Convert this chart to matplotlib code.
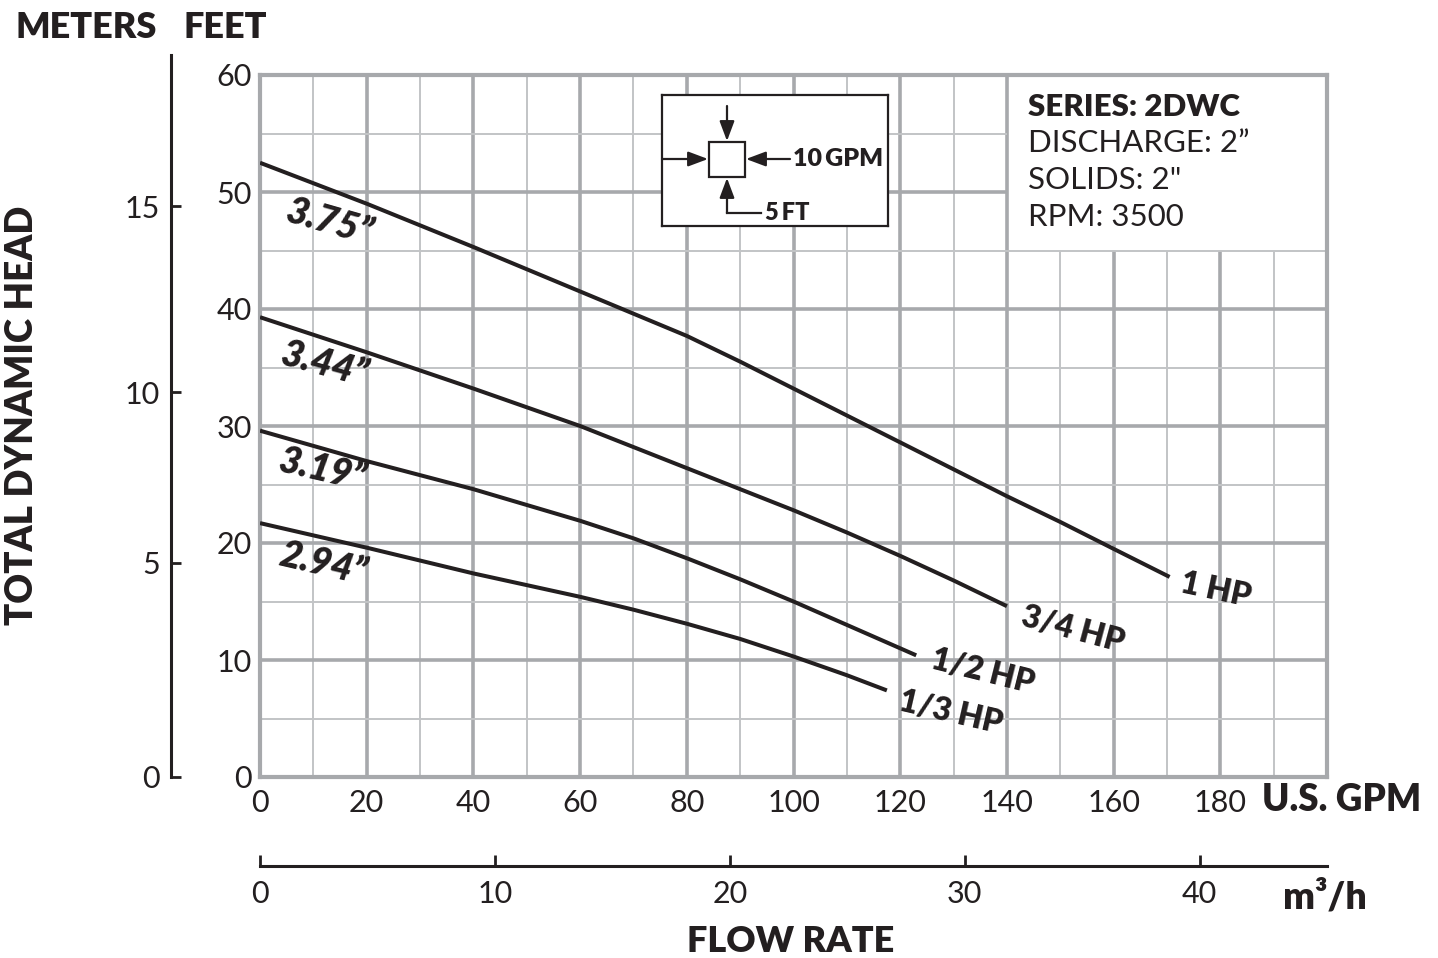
import matplotlib.pyplot as plt
from matplotlib.patches import Rectangle

plt.rcParams['font.family'] = ['Lato', 'DejaVu Sans']

# flow (US GPM) and head (feet)
gpm_375 = [0, 20, 40, 60, 80, 90, 100, 110, 120, 130, 140, 150, 160, 170.5]
ft_375 = [52.5, 49.0, 45.3, 41.5, 37.7, 35.5, 33.2, 30.9, 28.6, 26.3, 24.0, 21.8, 19.5, 17.1]
gpm_344 = [0, 20, 40, 60, 80, 90, 100, 110, 120, 130, 140]
ft_344 = [39.3, 36.3, 33.2, 30.0, 26.4, 24.6, 22.8, 20.9, 18.9, 16.8, 14.6]
gpm_319 = [0, 20, 40, 60, 70, 80, 90, 100, 110, 120, 123]
ft_319 = [29.6, 27.0, 24.6, 21.9, 20.4, 18.7, 16.9, 15.0, 13.0, 11.0, 10.4]
gpm_294 = [0, 20, 40, 60, 70, 80, 90, 100, 110, 117.5]
ft_294 = [21.7, 19.6, 17.4, 15.4, 14.3, 13.1, 11.8, 10.3, 8.7, 7.4]

impellers = ['3.75\u201d', '3.44\u201d', '3.19\u201d', '2.94\u201d']
motors = ['1 HP', '3/4 HP', '1/2 HP', '1/3 HP']

gpm_ticks = list(range(0, 181, 20))
ft_ticks = list(range(0, 61, 10))
m3h_ticks = [0, 10, 20, 30, 40]
meter_labels = ['0', '5', '10', '15']
meter_pos_ft = [0, 18.3, 32.9, 48.8]   # where the meter ticks sit on the feet scale

info_lines = ['SERIES: 2DWC', 'DISCHARGE: 2\u201d', 'SOLIDS: 2"', 'RPM: 3500']

W, H = 1438, 958
ink = '#231f20'
major = '#a7a9ac'
minor = '#c2c4c6'

fig = plt.figure(figsize=(W / 100, H / 100), dpi=100)
ax = fig.add_axes([260 / W, 181 / H, 1067 / W, 702 / H])
ax.set_xlim(0, 200)
ax.set_ylim(0, 60)

# grid (kept out of the info box in the top right corner)
for g in range(10, 200, 10):
    top = 45 if g > 140 else 60
    ax.vlines(g, 0, top, color=major if g % 20 == 0 else minor,
              lw=2.6 if g % 20 == 0 else 1.4, zorder=1)
for h in range(5, 60, 5):
    right = 140 if h > 45 else 200
    ax.hlines(h, 0, right, color=major if h % 10 == 0 else minor,
              lw=2.6 if h % 10 == 0 else 1.4, zorder=1)
for s in ax.spines.values():
    s.set_color(major)
    s.set_linewidth(3)

# curves
curves = [(gpm_375, ft_375), (gpm_344, ft_344), (gpm_319, ft_319), (gpm_294, ft_294)]
for xs, ys in curves:
    ax.plot(xs, ys, color=ink, lw=2.9, solid_capstyle='butt',
            solid_joinstyle='round', zorder=3)

imp_pos = [(13.1, 47.4, -16), (12.2, 35.2, -15), (11.8, 26.2, -13), (11.8, 18.2, -13)]
for lab, (x, y, r) in zip(impellers, imp_pos):
    ax.text(x, y, lab, fontsize=27, fontweight='heavy', style='italic', color=ink,
            rotation=r, ha='center', va='center', rotation_mode='anchor')
hp_pos = [(179.1, 16.0, -12), (152.3, 12.6, -15), (135.4, 9.0, -14), (129.4, 5.5, -13)]
for lab, (x, y, r) in zip(motors, hp_pos):
    ax.text(x, y, lab, fontsize=23, fontweight='heavy', color=ink,
            rotation=r, ha='center', va='center', rotation_mode='anchor')

# ticks, feet / gpm
ax.set_xticks(gpm_ticks)
ax.set_yticks(ft_ticks)
ax.tick_params(length=0, labelsize=22, colors=ink)
ax.tick_params(axis='x', pad=9)
ax.tick_params(axis='y', pad=6)

# meters axis
sec_y = ax.secondary_yaxis(-89 / 1067)
sec_y.set_yticks(meter_pos_ft, meter_labels)
sec_y.tick_params(direction='in', length=7, width=2, colors=ink, labelsize=22, pad=8)
sec_y.spines['left'].set_linewidth(2.2)
sec_y.spines['left'].set_color(ink)
sec_y.spines['left'].set_bounds(0, 61.7)

# m3/h axis
gpm_per_m3h = 4.40287
sec_x = ax.secondary_xaxis(-89 / 702, functions=(lambda g: g / gpm_per_m3h,
                                                 lambda m: m * gpm_per_m3h))
sec_x.set_xticks(m3h_ticks)
sec_x.tick_params(direction='in', length=8, width=2, colors=ink, labelsize=22, pad=10)
sec_x.spines['bottom'].set_linewidth(2.2)
sec_x.spines['bottom'].set_color(ink)

# axis titles
fig.text(22 / W, 1 - 415 / H, 'TOTAL DYNAMIC HEAD', rotation=90, fontsize=26.5,
         fontweight='heavy', color=ink, ha='center', va='center')
fig.text(15 / W, 1 - 27 / H, 'METERS', fontsize=26, fontweight='heavy', color=ink,
         ha='left', va='center')
fig.text(183 / W, 1 - 27 / H, 'FEET', fontsize=26, fontweight='heavy', color=ink,
         ha='left', va='center')
fig.text(1262 / W, 1 - 800 / H, 'U.S. GPM', fontsize=26.5, fontweight='heavy', color=ink,
         ha='left', va='center')
fig.text(1283 / W, 1 - 897 / H, 'm\u00b3/h', fontsize=27, fontweight='heavy', color=ink,
         ha='left', va='center')
fig.text(791 / W, 1 - 942 / H, 'FLOW RATE', fontsize=26, fontweight='heavy', color=ink,
         ha='center', va='center')

# info block
for i, line in enumerate(info_lines):
    fig.text(1028 / W, 1 - (107 + 36.5 * i) / H, line, fontsize=22.5, color=ink,
             fontweight='heavy' if i == 0 else 'normal', ha='left', va='center')

# test-point key
key = fig.add_axes([662 / W, 1 - 226 / H, 226 / W, 131 / H])
key.set_xlim(662, 888)
key.set_ylim(226, 95)
key.set_xticks([])
key.set_yticks([])
key.set_facecolor('white')
for s in key.spines.values():
    s.set_linewidth(1.6)
    s.set_color(ink)
key.add_patch(Rectangle((709, 142), 36, 35, fill=False, ec=ink, lw=1.6))
arrow = dict(arrowstyle='-|>,head_length=1.2,head_width=0.45', color=ink, lw=1.6,
             shrinkA=0, shrinkB=0)
key.annotate('', xy=(708, 159), xytext=(662, 159), arrowprops=arrow)
key.annotate('', xy=(746, 159), xytext=(790, 159), arrowprops=arrow)
key.annotate('', xy=(727, 141), xytext=(727, 106), arrowprops=arrow)
key.annotate('', xy=(727, 178), xytext=(727, 213), arrowprops=arrow)
key.plot([727, 761], [213, 213], color=ink, lw=1.6)
key.text(793, 159, '10\u2009GPM', fontsize=18, fontweight='heavy', color=ink,
         ha='left', va='center')
key.text(765, 213, '5\u2009FT', fontsize=17, fontweight='heavy', color=ink,
         ha='left', va='center')

fig.savefig('out.png', dpi=100, facecolor='white')
